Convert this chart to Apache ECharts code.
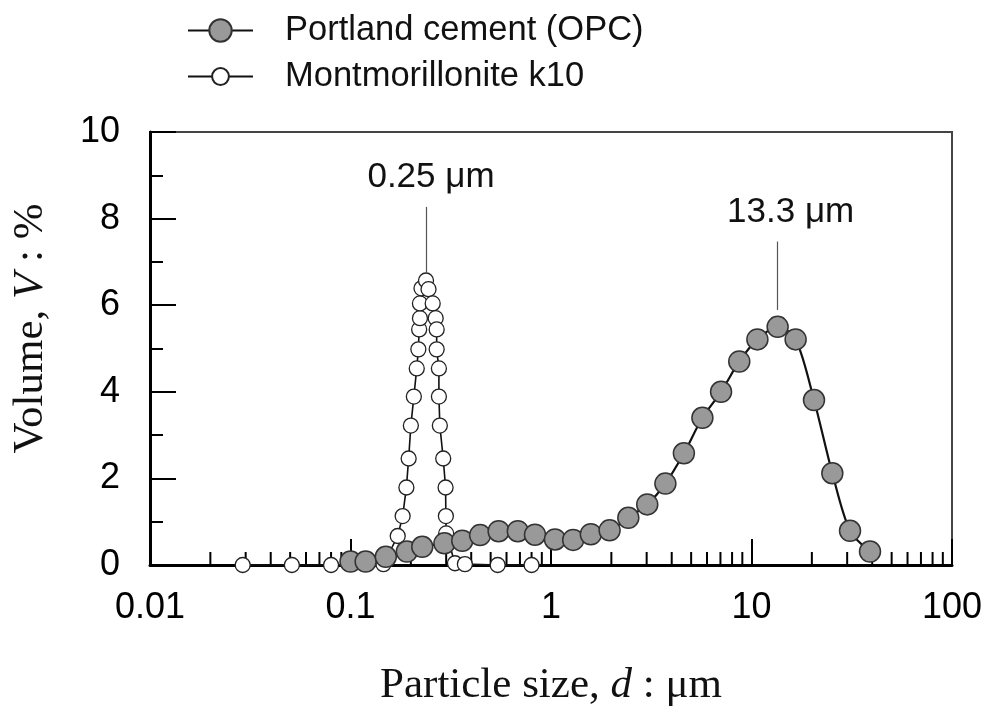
<!DOCTYPE html>
<html>
<head>
<meta charset="utf-8">
<script src="https://cdn.jsdelivr.net/npm/echarts@6/dist/echarts.min.js"></script>
<style>
  html, body { margin: 0; padding: 0; background: #fff; }
  #chart { width: 995px; height: 712px; }
</style>
</head>
<body>
<div id="chart"></div>
<script>
// Portland cement (OPC), particle size in um and volume in %
const opcSize = [0.1, 0.119, 0.15, 0.191, 0.228, 0.294, 0.361, 0.443, 0.548, 0.683, 0.832,
  1.047, 1.29, 1.58, 1.96, 2.43, 3.02, 3.72, 4.6, 5.69, 7.05, 8.69, 10.7, 13.5, 16.6,
  20.5, 25.3, 31.0, 39.0];
const opcVolume = [0.08, 0.08, 0.19, 0.31, 0.42, 0.5, 0.56, 0.69, 0.78, 0.78, 0.7,
  0.59, 0.58, 0.71, 0.8, 1.09, 1.4, 1.88, 2.58, 3.4, 4.0, 4.7, 5.21, 5.5, 5.21,
  3.81, 2.12, 0.79, 0.31];

// Montmorillonite k10
const mmtSize = [0.029, 0.051, 0.08, 0.146, 0.172, 0.182, 0.19, 0.195, 0.2, 0.207, 0.214,
  0.218, 0.22, 0.222, 0.222, 0.226, 0.238, 0.245, 0.257, 0.266, 0.269, 0.269, 0.276,
  0.276, 0.279, 0.29, 0.298, 0.299, 0.3, 0.332, 0.372, 0.542, 0.8];
const mmtVolume = [0, 0, 0, 0.02, 0.67, 1.13, 1.79, 2.46, 3.22, 3.89, 4.54,
  4.98, 5.44, 5.7, 6.04, 6.39, 6.57, 6.37, 6.04, 5.7, 5.44, 4.98, 4.54,
  3.89, 3.22, 2.46, 1.79, 1.13, 0.73, 0.04, 0.02, 0, 0];

const xTickLabels = ['0.01', '0.1', '1', '10', '100'];
const xMinorTicks = [0.02, 0.03, 0.04, 0.05, 0.06, 0.07, 0.08, 0.09,
  0.2, 0.3, 0.4, 0.5, 0.6, 0.7, 0.8, 0.9,
  2, 3, 4, 5, 6, 7, 8, 9,
  20, 30, 40, 50, 60, 70, 80, 90];

// peak annotations: size, line from / to volume, text
const peakSize = [0.238, 13.5];
const peakLineFrom = [6.74, 5.89];
const peakLineTo = [8.27, 7.47];
const peakText = ['0.25 \u03bcm', '13.3 \u03bcm'];

const sans = 'Liberation Sans';
const serif = 'Liberation Serif';

const chart = echarts.init(document.getElementById('chart'));

const peakMark = (i, pad) => ({
  silent: true,
  symbol: 'none',
  lineStyle: { color: '#555', width: 1.2, type: 'solid' },
  label: {
    show: true,
    position: 'end',
    distance: 12,
    formatter: peakText[i],
    fontFamily: sans,
    fontSize: 35,
    color: '#111',
    padding: [0, 0, 0, pad],
  },
  data: [[{ coord: [peakSize[i], peakLineFrom[i]] }, { coord: [peakSize[i], peakLineTo[i]] }]],
});

const titleStyle = {
  fontFamily: serif,
  fontSize: 43,
  color: '#111',
  rich: { i: { fontFamily: serif, fontStyle: 'italic', fontSize: 43, color: '#111' } },
};

chart.setOption({
  animation: false,
  legend: [
    {
      orient: 'vertical',
      left: 187,
      top: 13,
      padding: 0,
      itemWidth: 65,
      itemHeight: 28,
      textStyle: { fontFamily: sans, fontSize: 34.5, color: '#111', padding: [0, 0, 0, 27] },
      data: ['Portland cement (OPC)'],
    },
    {
      orient: 'vertical',
      left: 187,
      top: 59,
      padding: 0,
      itemWidth: 65,
      itemHeight: 21,
      textStyle: { fontFamily: sans, fontSize: 34.5, color: '#111', padding: [0, 0, 0, 27] },
      data: ['Montmorillonite k10'],
    },
  ],
  grid: {
    left: 150,
    right: 43,
    top: 132,
    bottom: 147,
    show: true,
    borderColor: '#444',
    borderWidth: 2,
  },
  xAxis: {
    type: 'log',
    logBase: 10,
    min: 0.01,
    max: 100,
    name: 'Particle size, {i|d} : \u03bcm',
    nameLocation: 'middle',
    nameGap: 99,
    nameTextStyle: titleStyle,
    axisLine: { lineStyle: { color: '#000', width: 3 } },
    axisTick: { inside: true, length: 26, lineStyle: { color: '#000', width: 2 } },
    axisLabel: {
      margin: 25,
      fontFamily: sans,
      fontSize: 36,
      color: '#000',
      formatter: (v, i) => xTickLabels[i],
    },
    splitLine: { show: false },
  },
  yAxis: {
    type: 'value',
    min: 0,
    max: 10,
    interval: 2,
    name: 'Volume, {i|V} : %',
    nameLocation: 'middle',
    nameGap: 98,
    nameTextStyle: Object.assign({}, titleStyle, { padding: [0, 0, 0, 40] }),
    axisLine: { show: true, lineStyle: { color: '#000', width: 3 } },
    axisTick: { inside: true, length: 26, lineStyle: { color: '#000', width: 2 } },
    minorTick: { show: true, splitNumber: 2, length: 13, lineStyle: { color: '#000', width: 2 } },
    axisLabel: { margin: 30, fontFamily: sans, fontSize: 36, color: '#000' },
    splitLine: { show: false },
  },
  series: [
    {
      type: 'custom',
      silent: true,
      z: 1,
      renderItem: (params, api) => {
        const p = api.coord([api.value(0), 0]);
        return {
          type: 'line',
          shape: { x1: p[0], y1: p[1], x2: p[0], y2: p[1] - 13 },
          style: { stroke: '#000', lineWidth: 2 },
        };
      },
      data: xMinorTicks.map((v) => [v, 0]),
    },
    {
      name: 'Montmorillonite k10',
      type: 'line',
      z: 3,
      clip: false,
      data: mmtSize.map((s, i) => [s, mmtVolume[i]]),
      symbol: 'circle',
      symbolSize: 15,
      showAllSymbol: true,
      lineStyle: { color: '#111', width: 1.6 },
      itemStyle: { color: '#fff', borderColor: '#222', borderWidth: 1.3 },
      markLine: peakMark(0, 10),
    },
    {
      name: 'Portland cement (OPC)',
      type: 'line',
      z: 4,
      clip: false,
      smooth: 0.3,
      data: opcSize.map((s, i) => [s, opcVolume[i]]),
      symbol: 'circle',
      symbolSize: 21,
      showAllSymbol: true,
      lineStyle: { color: '#111', width: 2.2 },
      itemStyle: { color: '#999', borderColor: '#333', borderWidth: 1.5 },
      markLine: peakMark(1, 26),
    },
  ],
});
</script>
</body>
</html>
